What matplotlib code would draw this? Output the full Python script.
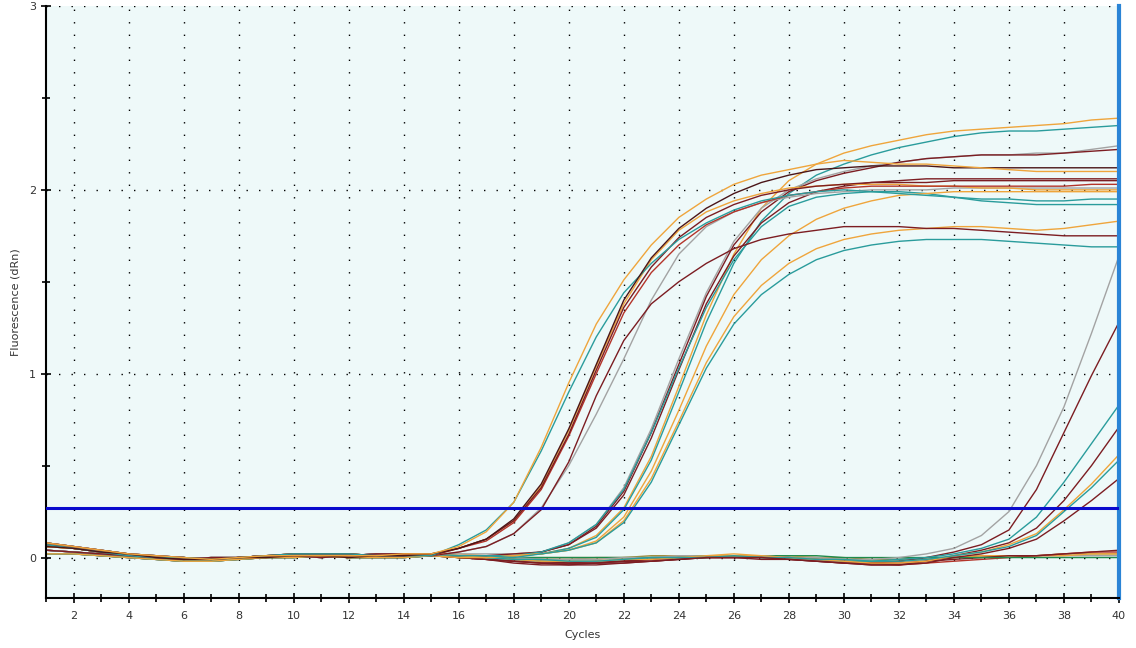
import matplotlib.pyplot as plt
from matplotlib.ticker import MultipleLocator

# --- data ---
cycles = list(range(1, 41))
threshold = 0.272

# baseline drift over cycles 1-15
drift_1 = [0.08, 0.06, 0.04, 0.02, 0.01, 0.00, -0.01, 0.00, 0.01, 0.01, 0.01, 0.01, 0.01, 0.02, 0.02]
drift_2 = [0.06, 0.05, 0.03, 0.02, 0.00, -0.01, -0.01, 0.00, 0.00, 0.01, 0.01, 0.00, 0.01, 0.01, 0.02]
drift_3 = [0.04, 0.03, 0.02, 0.01, 0.00, -0.01, 0.00, 0.00, 0.01, 0.01, 0.00, 0.01, 0.02, 0.02, 0.01]
drift_4 = [0.02, 0.02, 0.01, 0.00, -0.01, -0.02, -0.02, -0.01, 0.00, 0.00, 0.01, 0.00, 0.00, 0.00, 0.01]
drift_5 = [0.07, 0.05, 0.03, 0.01, 0.00, 0.00, -0.01, 0.00, 0.01, 0.02, 0.02, 0.02, 0.01, 0.01, 0.01]

# early group (Ct ~18-19), cycles 16-40
a1_orange = drift_1 + [0.06, 0.14, 0.30, 0.60, 0.95, 1.27, 1.51, 1.70, 1.85, 1.95, 2.03, 2.08, 2.11,
                       2.14, 2.16, 2.15, 2.14, 2.14, 2.13, 2.12, 2.11, 2.10, 2.10, 2.10, 2.10]
a2_teal = drift_5 + [0.07, 0.15, 0.30, 0.58, 0.90, 1.20, 1.44, 1.60, 1.73, 1.82, 1.89, 1.94, 1.97,
                     1.99, 2.00, 1.99, 1.98, 1.97, 1.96, 1.95, 1.95, 1.94, 1.94, 1.95, 1.95]
a3_black = drift_2 + [0.05, 0.10, 0.21, 0.40, 0.70, 1.05, 1.40, 1.63, 1.79, 1.90, 1.98, 2.04, 2.08,
                      2.11, 2.12, 2.13, 2.13, 2.13, 2.12, 2.12, 2.12, 2.12, 2.12, 2.12, 2.12]
a4_darkred = drift_3 + [0.05, 0.10, 0.20, 0.38, 0.67, 1.02, 1.36, 1.58, 1.74, 1.85, 1.92, 1.97, 2.00,
                        2.02, 2.03, 2.04, 2.04, 2.04, 2.05, 2.05, 2.05, 2.05, 2.05, 2.05, 2.05]
a5_red = drift_1 + [0.05, 0.09, 0.19, 0.37, 0.66, 1.00, 1.33, 1.55, 1.70, 1.81, 1.88, 1.93, 1.97,
                    1.99, 2.01, 2.02, 2.02, 2.02, 2.02, 2.02, 2.02, 2.02, 2.02, 2.03, 2.03]
a6_orange = drift_4 + [0.05, 0.10, 0.20, 0.39, 0.69, 1.04, 1.38, 1.62, 1.78, 1.88, 1.94, 1.98, 2.01,
                       2.02, 2.03, 2.03, 2.03, 2.02, 2.02, 2.01, 2.01, 2.00, 2.00, 2.00, 2.00]
a7_gray = drift_3 + [0.03, 0.06, 0.13, 0.27, 0.50, 0.78, 1.08, 1.40, 1.65, 1.80, 1.88, 1.93, 1.96,
                     1.98, 1.99, 2.00, 2.00, 2.00, 2.01, 2.01, 2.01, 2.01, 2.01, 2.01, 2.01]
a8_darkred = drift_5 + [0.03, 0.06, 0.13, 0.26, 0.52, 0.88, 1.18, 1.38, 1.50, 1.60, 1.68, 1.73, 1.76,
                        1.78, 1.80, 1.80, 1.80, 1.79, 1.79, 1.78, 1.77, 1.76, 1.75, 1.75, 1.75]

# middle group (Ct ~21-22.5), cycles 16-40
b1_orange = drift_2 + [0.02, 0.01, 0.01, 0.02, 0.05, 0.12, 0.27, 0.55, 0.93, 1.32, 1.65, 1.90, 2.05,
                       2.14, 2.20, 2.24, 2.27, 2.30, 2.32, 2.33, 2.34, 2.35, 2.36, 2.38, 2.39]
b2_teal = drift_4 + [0.01, 0.00, 0.01, 0.02, 0.05, 0.11, 0.26, 0.53, 0.90, 1.28, 1.60, 1.83, 1.98,
                     2.08, 2.14, 2.19, 2.23, 2.26, 2.29, 2.31, 2.32, 2.32, 2.33, 2.34, 2.35]
b3_gray = drift_1 + [0.02, 0.02, 0.02, 0.03, 0.08, 0.18, 0.38, 0.70, 1.08, 1.44, 1.72, 1.90, 2.00,
                     2.06, 2.10, 2.13, 2.15, 2.17, 2.18, 2.19, 2.19, 2.20, 2.20, 2.22, 2.24]
b4_darkred = drift_5 + [0.01, 0.01, 0.02, 0.03, 0.07, 0.17, 0.36, 0.68, 1.05, 1.42, 1.70, 1.88, 1.99,
                        2.05, 2.09, 2.12, 2.15, 2.17, 2.18, 2.19, 2.19, 2.19, 2.20, 2.21, 2.22]
b5_darkred = drift_3 + [0.01, 0.01, 0.01, 0.03, 0.07, 0.16, 0.34, 0.65, 1.02, 1.38, 1.64, 1.82, 1.93,
                        1.99, 2.02, 2.04, 2.05, 2.06, 2.06, 2.06, 2.06, 2.06, 2.06, 2.06, 2.06]
b6_teal = drift_4 + [0.01, 0.01, 0.01, 0.03, 0.08, 0.18, 0.37, 0.68, 1.03, 1.36, 1.62, 1.80, 1.91,
                     1.96, 1.98, 1.99, 1.99, 1.98, 1.96, 1.94, 1.93, 1.92, 1.92, 1.92, 1.92]
b7_orange = drift_2 + [0.01, 0.00, 0.01, 0.02, 0.04, 0.09, 0.22, 0.47, 0.80, 1.15, 1.43, 1.62, 1.75,
                       1.84, 1.90, 1.94, 1.97, 1.98, 1.99, 1.99, 1.99, 1.99, 1.99, 1.99, 1.99]
b8_orange = drift_5 + [0.00, 0.00, 0.01, 0.02, 0.04, 0.08, 0.20, 0.43, 0.74, 1.06, 1.31, 1.48, 1.60,
                       1.68, 1.73, 1.76, 1.78, 1.79, 1.80, 1.80, 1.79, 1.78, 1.79, 1.81, 1.83]
b9_teal = drift_1 + [0.01, 0.01, 0.00, 0.02, 0.04, 0.08, 0.19, 0.41, 0.72, 1.03, 1.27, 1.43, 1.54,
                     1.62, 1.67, 1.70, 1.72, 1.73, 1.73, 1.73, 1.72, 1.71, 1.70, 1.69, 1.69]

# late group (Ct ~36-39), cycles 16-40
c1_gray = drift_3 + [0.01, 0.01, 0.00, -0.01, -0.01, -0.01, 0.00, 0.00, 0.01, 0.01, 0.01, 0.01, 0.00,
                     0.00, -0.01, -0.01, 0.00, 0.02, 0.05, 0.12, 0.25, 0.50, 0.82, 1.22, 1.64]
c2_darkred = drift_1 + [0.00, -0.01, -0.02, -0.03, -0.04, -0.04, -0.03, -0.02, -0.01, 0.00, 0.00, 0.00, -0.01,
                        -0.02, -0.03, -0.03, -0.02, 0.00, 0.03, 0.07, 0.15, 0.37, 0.68, 0.99, 1.28]
c3_teal = drift_5 + [0.01, 0.00, -0.01, -0.02, -0.02, -0.02, -0.01, 0.00, 0.00, 0.01, 0.01, 0.00, 0.00,
                     -0.01, -0.02, -0.02, -0.01, 0.00, 0.02, 0.05, 0.10, 0.22, 0.41, 0.62, 0.83]
c4_darkred = drift_2 + [0.00, -0.01, -0.03, -0.04, -0.04, -0.03, -0.03, -0.02, -0.01, 0.00, 0.00, -0.01, -0.01,
                        -0.02, -0.03, -0.04, -0.04, -0.02, 0.01, 0.04, 0.08, 0.16, 0.31, 0.50, 0.71]
c5_orange = drift_4 + [0.00, 0.00, -0.01, -0.02, -0.02, -0.02, -0.01, -0.01, 0.00, 0.01, 0.01, 0.01, 0.00,
                       -0.01, -0.02, -0.03, -0.03, -0.02, 0.01, 0.03, 0.07, 0.13, 0.26, 0.40, 0.56]
c6_teal = drift_3 + [0.01, 0.00, -0.01, -0.01, -0.02, -0.02, -0.01, 0.00, 0.00, 0.00, 0.01, 0.00, 0.00,
                     -0.01, -0.01, -0.02, -0.02, -0.01, 0.01, 0.03, 0.06, 0.12, 0.25, 0.38, 0.53]
c7_darkred = drift_4 + [0.00, -0.01, -0.02, -0.03, -0.03, -0.03, -0.02, -0.02, -0.01, 0.00, 0.00, 0.00, -0.01,
                        -0.02, -0.03, -0.04, -0.04, -0.03, 0.00, 0.02, 0.05, 0.10, 0.20, 0.31, 0.43]

# no amplification, cycles 16-40
d1_green = drift_4 + [0.00, 0.00, 0.00, 0.00, 0.00, 0.00, 0.00, 0.00, 0.00, 0.00, 0.01, 0.01, 0.01,
                      0.01, 0.00, 0.00, 0.00, 0.00, 0.00, 0.00, 0.00, 0.00, 0.00, 0.00, 0.00]
d2_darkred = drift_1 + [0.01, 0.00, -0.01, -0.02, -0.03, -0.03, -0.02, -0.01, 0.00, 0.00, 0.01, 0.01, 0.00,
                        -0.01, -0.02, -0.03, -0.03, -0.02, -0.01, 0.00, 0.01, 0.01, 0.02, 0.03, 0.04]
d3_orange = drift_2 + [0.01, 0.01, 0.00, -0.01, -0.01, -0.01, 0.00, 0.00, 0.01, 0.01, 0.02, 0.01, 0.01,
                       0.00, -0.01, -0.02, -0.02, -0.01, 0.00, 0.01, 0.01, 0.01, 0.01, 0.02, 0.02]
d4_olive = drift_5 + [0.01, 0.01, 0.00, 0.00, 0.00, 0.00, 0.00, 0.01, 0.01, 0.01, 0.01, 0.01, 0.00,
                      0.00, 0.00, -0.01, -0.01, 0.00, 0.00, 0.01, 0.01, 0.01, 0.02, 0.02, 0.02]
d5_red = drift_3 + [0.00, -0.01, -0.02, -0.03, -0.03, -0.02, -0.02, -0.01, 0.00, 0.00, 0.00, 0.01, 0.00,
                    -0.01, -0.02, -0.03, -0.04, -0.03, -0.02, -0.01, 0.00, 0.01, 0.02, 0.03, 0.03]
d6_gray = drift_4 + [0.00, 0.00, 0.00, -0.01, -0.01, 0.00, 0.00, 0.00, 0.01, 0.01, 0.01, 0.00, 0.00,
                     0.00, -0.01, -0.02, -0.02, -0.01, 0.00, 0.00, 0.01, 0.01, 0.01, 0.01, 0.01]

# --- colours ---
ORANGE = '#EFA53C'
TEAL = '#2A9C9C'
DARKRED = '#7C1D22'
BLACKRED = '#4A1518'
RED = '#B4342A'
GRAY = '#A3A3A3'
GREEN = '#1F8A4C'
OLIVE = '#A08C3A'

series = [
    (d6_gray, GRAY), (d4_olive, OLIVE), (d3_orange, ORANGE), (d5_red, RED),
    (d2_darkred, DARKRED), (d1_green, GREEN),
    (c1_gray, GRAY), (c2_darkred, DARKRED), (c3_teal, TEAL), (c4_darkred, DARKRED),
    (c5_orange, ORANGE), (c6_teal, TEAL), (c7_darkred, DARKRED),
    (b1_orange, ORANGE), (b2_teal, TEAL), (b3_gray, GRAY), (b4_darkred, DARKRED),
    (b5_darkred, DARKRED), (b6_teal, TEAL), (b7_orange, ORANGE), (b8_orange, ORANGE),
    (b9_teal, TEAL),
    (a7_gray, GRAY), (a8_darkred, DARKRED), (a6_orange, ORANGE), (a5_red, RED),
    (a4_darkred, DARKRED), (a2_teal, TEAL), (a3_black, BLACKRED), (a1_orange, ORANGE),
]

# --- figure ---
plt.rcParams['font.family'] = 'DejaVu Sans'
fig = plt.figure(figsize=(11.36, 6.48), dpi=100)
ax = fig.add_axes([46 / 1136, 50 / 648, 1073 / 1136, 592 / 648])
ax.set_facecolor('#EEF9F9')

for vals, col in series:
    ax.plot(cycles, vals, color=col, lw=1.0, solid_joinstyle='miter')

ax.axhline(threshold, color='#0A0ACD', lw=2.2, zorder=5)

ax.set_xlim(1, 40)
ax.set_ylim(-0.22, 3.0)
ax.xaxis.set_major_locator(MultipleLocator(2))
ax.xaxis.set_minor_locator(MultipleLocator(1))
ax.yaxis.set_major_locator(MultipleLocator(1))
ax.yaxis.set_minor_locator(MultipleLocator(0.5))
ax.tick_params(which='major', direction='inout', length=7, width=1.2, labelsize=8,
               labelcolor='#333333')
ax.tick_params(which='minor', direction='inout', length=6, width=1.2)
ax.tick_params(axis='x', pad=6)

# sparse dotted grid like the instrument software
ax.grid(which='major', color='black', linestyle=(0, (1, 8)), linewidth=1.0)
ax.set_axisbelow(True)

for side in ['left', 'bottom']:
    ax.spines[side].set_linewidth(1.5)
    ax.spines[side].set_color('black')
ax.spines['top'].set_visible(False)
ax.spines['right'].set_color('#2A84D6')
ax.spines['right'].set_linewidth(3)

ax.set_xlabel('Cycles', fontsize=8, color='#333333', labelpad=6)
ax.set_ylabel('Fluorescence (dRn)', fontsize=8, color='#333333', labelpad=6)

fig.savefig('out.png', dpi=100)
